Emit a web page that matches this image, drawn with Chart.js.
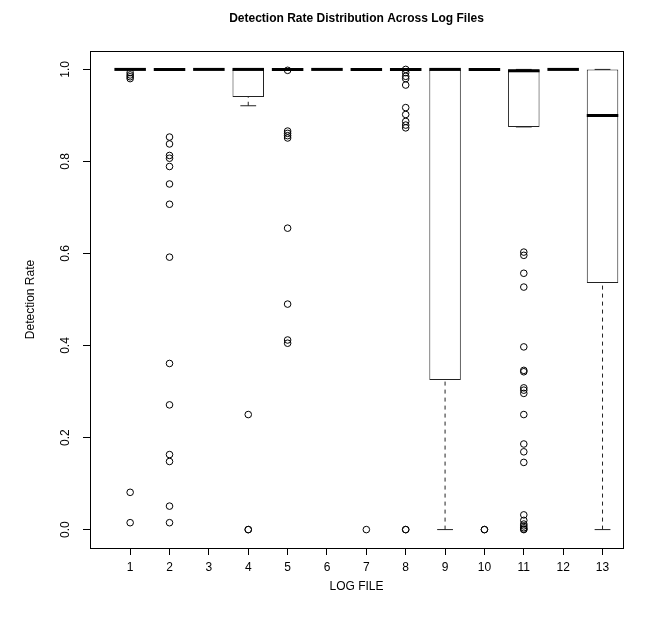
<!DOCTYPE html>
<html>
<head>
<meta charset="utf-8">
<title>Detection Rate Distribution Across Log Files</title>
<script src="https://cdn.jsdelivr.net/npm/chart.js@4/dist/chart.umd.min.js"></script>
<style>
  html, body { margin: 0; padding: 0; background: #fff; }
  #chart { display: block; }
</style>
</head>
<body>
<canvas id="chart" width="652" height="626"></canvas>
<script>
/* ===== boxplot stats per log file ===== */
const logFiles = [1, 2, 3, 4, 5, 6, 7, 8, 9, 10, 11, 12, 13];
const fileLabels = ['1', '2', '3', '4', '5', '6', '7', '8', '9', '10', '11', '12', '13'];
const q1      = [1, 1, 1, 0.94, 1, 1, 1, 1, 0.325, 1, 0.875, 1, 0.536];
const median  = [1, 1, 1, 1, 1, 1, 1, 1, 1, 1, 0.997, 1, 0.9];
const q3      = [1, 1, 1, 1, 1, 1, 1, 1, 1, 1, 1, 1, 1];
const whiskLo = [1, 1, 1, 0.921, 1, 1, 1, 1, 0, 1, 0.875, 1, 0];
const whiskHi = [1, 1, 1, 1, 1, 1, 1, 1, 1, 1, 1, 1, 1];
const outliers = [
  [0.993, 0.988, 0.984, 0.98, 0.081, 0.015],
  [0.853, 0.838, 0.813, 0.807, 0.789, 0.751, 0.707, 0.592, 0.361, 0.271, 0.163, 0.148, 0.051, 0.015],
  [],
  [0.25, 0, 0],
  [0.998, 0.866, 0.861, 0.856, 0.851, 0.655, 0.49, 0.412, 0.405],
  [],
  [0],
  [1, 0.993, 0.985, 0.98, 0.966, 0.917, 0.902, 0.887, 0.879, 0.873, 0, 0],
  [],
  [0, 0],
  [0.603, 0.596, 0.557, 0.527, 0.397, 0.346, 0.343, 0.308, 0.303, 0.296, 0.25, 0.186, 0.169, 0.146,
   0.032, 0.02, 0.012, 0.008, 0.004, 0.001, 0],
  [],
  []
];
const yTicks = [0, 0.2, 0.4, 0.6, 0.8, 1.0];

const FONT = 'Liberation Sans, Arial, Helvetica, sans-serif';

// build datasets from the arrays
const boxData = logFiles.map((f, i) => ({ x: f, y: [q1[i], q3[i]] }));
const medData = logFiles.map((f, i) => ({ x: f, y: median[i] }));
const capData = [];
const whiskData = [];
logFiles.forEach((f, i) => {
  capData.push({ x: f, y: whiskLo[i] }, { x: f, y: whiskHi[i] });
  whiskData.push({ x: f, y: whiskLo[i] }, { x: f, y: q1[i] }, { x: f, y: null });
  whiskData.push({ x: f, y: q3[i] }, { x: f, y: whiskHi[i] }, { x: f, y: null });
});
const outData = [];
outliers.forEach((vals, i) => vals.forEach(v => outData.push({ x: logFiles[i], y: v })));

// plot frame like base R
const frame = {
  id: 'frame',
  afterDatasetsDraw(chart) {
    const { ctx, chartArea: a } = chart;
    ctx.save();
    ctx.strokeStyle = '#000';
    ctx.lineWidth = 1;
    ctx.strokeRect(Math.round(a.left) + 0.5, Math.round(a.top) + 0.5,
      Math.round(a.right - a.left), Math.round(a.bottom - a.top));
    ctx.restore();
  }
};

new Chart(document.getElementById('chart'), {
  type: 'bar',
  data: {
    datasets: [
      { type: 'bar', data: boxData, backgroundColor: '#fff', borderColor: '#222', borderWidth: 1,
        borderSkipped: false, barPercentage: 1, categoryPercentage: 0.8, order: 4 },
      { type: 'line', data: whiskData, borderColor: '#222', borderWidth: 1, borderDash: [4, 4],
        pointRadius: 0, spanGaps: false, fill: false, order: 3 },
      { type: 'scatter', data: capData, pointStyle: 'line', pointRadius: 7.9, borderColor: '#222',
        borderWidth: 1, order: 2 },
      { type: 'scatter', data: medData, pointStyle: 'line', pointRadius: 15.75, borderColor: '#000',
        borderWidth: 3, order: 1 },
      { type: 'scatter', data: outData, pointStyle: 'circle', pointRadius: 3.3,
        backgroundColor: 'rgba(0,0,0,0)', borderColor: '#000', borderWidth: 1, order: 0 }
    ]
  },
  options: {
    responsive: false,
    animation: false,
    events: [],
    layout: { padding: { left: 0, right: 29, top: 0, bottom: 0 } },
    plugins: {
      legend: { display: false },
      tooltip: { enabled: false },
      title: {
        display: true,
        text: 'Detection Rate Distribution Across Log Files',
        fullSize: false,
        color: '#000',
        font: { family: FONT, size: 12, weight: 'bold' },
        padding: { top: 11, bottom: 25.6 }
      }
    },
    scales: {
      x: {
        type: 'linear',
        min: -0.02,
        max: 13.52,
        offset: false,
        afterBuildTicks: s => { s.ticks = logFiles.map(v => ({ value: v })); },
        afterFit: s => { s.height = 78; },
        ticks: {
          callback: v => fileLabels[logFiles.indexOf(v)],
          color: '#000', font: { family: FONT, size: 12 }, padding: 5,
          maxRotation: 0, autoSkip: false
        },
        grid: { offset: false, drawOnChartArea: false, drawTicks: true, tickLength: 7, color: '#000' },
        border: { display: false },
        title: {
          display: true, text: 'LOG FILE', color: '#000',
          font: { family: FONT, size: 12 }, padding: { top: 0, bottom: 32 }
        }
      },
      y: {
        type: 'linear',
        min: -0.04,
        max: 1.04,
        afterBuildTicks: s => { s.ticks = yTicks.map(v => ({ value: v })); },
        afterFit: s => { s.width = 90; },
        ticks: {
          callback: v => v.toFixed(1),
          color: '#000', font: { family: FONT, size: 12 }, padding: 8.6,
          minRotation: 90, maxRotation: 90, crossAlign: 'center'
        },
        grid: { offset: false, drawOnChartArea: false, drawTicks: true, tickLength: 7, color: '#000' },
        border: { display: false },
        title: {
          display: true, text: 'Detection Rate', color: '#000',
          font: { family: FONT, size: 12 }, padding: { top: 23, bottom: 0 }
        }
      }
    }
  },
  plugins: [frame]
});
</script>
</body>
</html>
